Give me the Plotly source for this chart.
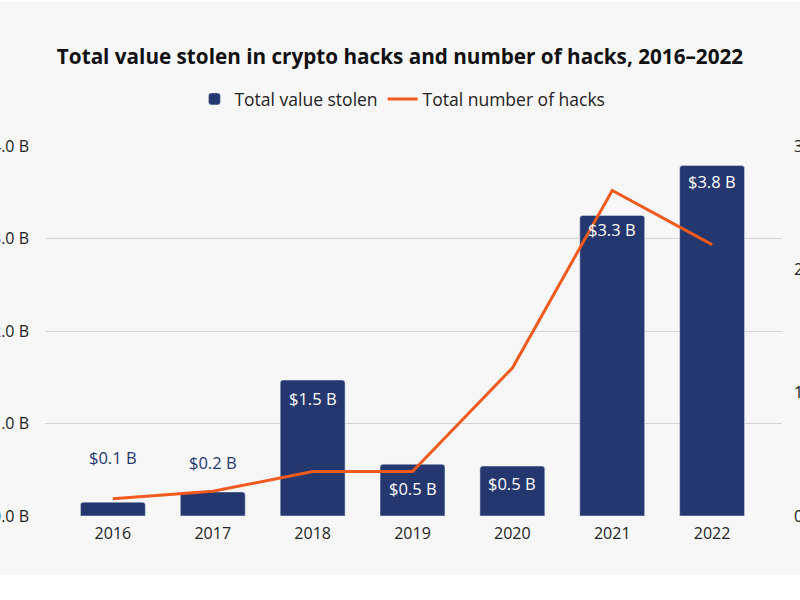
import plotly.graph_objects as go

years = ["2016", "2017", "2018", "2019", "2020", "2021", "2022"]
value_stolen_b = [0.15, 0.26, 1.47, 0.56, 0.54, 3.25, 3.79]
value_labels = ["$0.1 B", "$0.2 B", "$1.5 B", "$0.5 B", "$0.5 B", "$3.3 B", "$3.8 B"]
number_of_hacks = [14, 20, 36, 36, 120, 264, 220]

left_ticks = [0, 1, 2, 3, 4]
left_tick_labels = ["$0.0 B", "$1.0 B", "$2.0 B", "$3.0 B", "$4.0 B"]
right_ticks = [0, 100, 200, 300]
right_tick_labels = ["0", "100", "200", "300"]

NAVY = "#25376f"
ORANGE = "#f05a1e"
BG = "#f7f7f7"
FONT = "Open Sans"
H = 573  # figure height; page top offset 2px

# style: vertical offset (px) of each value label from the bar top
label_offsets_px = [45, 29, -18, -24, -17, -14, -16]

fig = go.Figure()
fig.add_trace(go.Bar(
    x=years, y=value_stolen_b, name="Total value stolen",
    marker=dict(color=NAVY, cornerradius=3),
    width=0.65,
))
fig.add_trace(go.Scatter(
    x=years, y=number_of_hacks, name="Total number of hacks",
    mode="lines", line=dict(color=ORANGE, width=3), yaxis="y2",
))

for i, (v, l, off) in enumerate(zip(value_stolen_b, value_labels, label_offsets_px)):
    fig.add_annotation(x=i, y=v, xref="x", yref="y", text=l, showarrow=False,
                       yanchor="middle", yshift=off,
                       font=dict(color=NAVY if off > 0 else "white", size=16.5, family=FONT))

fig.update_layout(
    width=800, height=H,
    paper_bgcolor=BG, plot_bgcolor=BG,
    margin=dict(l=45, r=18, t=144, b=59),
    font=dict(family=FONT, color="#222222", size=15),
    title=dict(text="<b>Total value stolen in crypto hacks and number of hacks, 2016–2022</b>",
               x=0.5, xanchor="center", y=1 - 55 / H, yanchor="middle",
               font=dict(size=20.7, color="#111111", family=FONT)),
    legend=dict(orientation="h", x=0.5 - 12 / 800, xanchor="center", y=1 - 97 / H, yref="container",
                xref="paper", yanchor="middle", font=dict(size=17.5, color="#222222"),
                bgcolor="rgba(0,0,0,0)", itemwidth=30, tracegroupgap=0),
    showlegend=True,
    xaxis=dict(type="category", range=[-0.68, 6.7], showgrid=False, zeroline=False,
               showline=False, ticks="", ticklabelstandoff=6,
               tickfont=dict(size=16, color="#222222")),
    yaxis=dict(range=[0, 4], tickmode="array", tickvals=left_ticks, ticktext=left_tick_labels,
               showgrid=True, gridcolor="#d3d3d3", gridwidth=1.2,
               zeroline=False, showline=False, automargin=False, ticklabelstandoff=15,
               tickfont=dict(size=16, color="#222222")),
    yaxis2=dict(range=[0, 300], tickmode="array", tickvals=right_ticks, ticktext=right_tick_labels,
                overlaying="y", side="right",
                showgrid=False, zeroline=False, showline=False, automargin=False,
                ticklabelstandoff=11, tickfont=dict(size=16, color="#222222")),
)

fig.write_html("out.html",
               post_script="document.body.style.margin='2px 0 0 0';document.body.style.overflow='hidden';")
